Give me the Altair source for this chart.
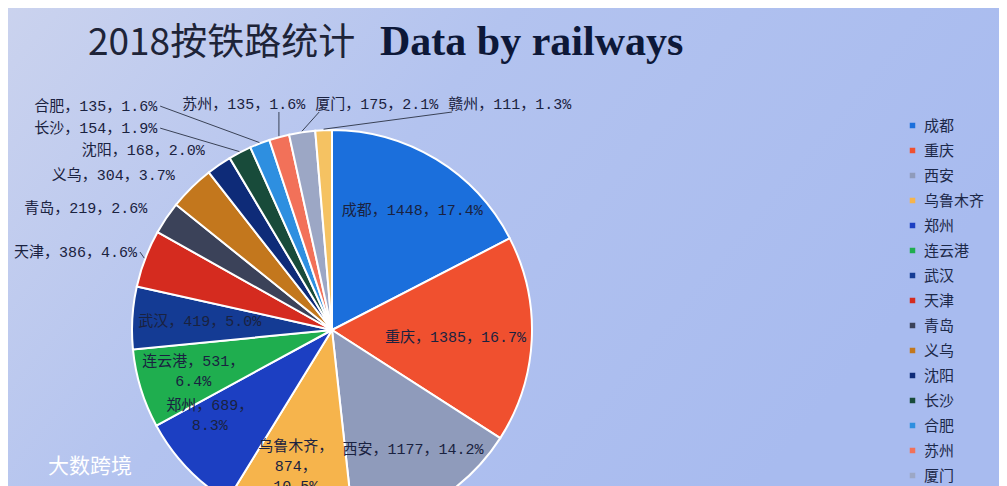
import math
import altair as alt
import pandas as pd

# ---------------- data ----------------
cities = ["成都", "重庆", "西安", "乌鲁木齐", "郑州", "连云港", "武汉", "天津",
          "青岛", "义乌", "沈阳", "长沙", "合肥", "苏州", "厦门", "赣州"]
values = [1448, 1385, 1177, 874, 689, 531, 419, 386,
          219, 304, 168, 154, 135, 135, 175, 111]
colors = ["#1b6fdc", "#f0502f", "#8f9bbb", "#f6b44c", "#1c3fc2", "#1fae4f",
          "#143b94", "#d52b1f", "#3b4259", "#c3771d", "#0e2b78", "#184b3a",
          "#2e8fe0", "#f27159", "#9ca7c5", "#f5c262"]

title_cn = "2018按铁路统计"
title_en = "Data by railways"
watermark = "大数跨境"
wrap_lines = {"乌鲁木齐": 3, "郑州": 2, "连云港": 2}

# ---------------- layout ----------------
W, H = 991, 478
CX, CY, R = 324, 322, 200
FS = 15
LAB_R = 140
SX = 1.1
LINE_H = 20
OUT_SHARE = 0.048
EDGE = 6
TXT = "#1a2240"
LAB_FONT = "Liberation Mono, Noto Sans CJK SC"

total = sum(values)
pcts = [f"{v / total * 100:.1f}%" for v in values]


def make_label(n, v, p, lines):
    if lines == 3:
        return f"{n}，\n{v}，\n{p}"
    if lines == 2:
        return f"{n}，{v}，\n{p}"
    return f"{n}，{v}，{p}"


def text_w(s):
    return sum(FS if ord(c) > 0x2000 else FS * 0.6 for c in s)


nlines = [wrap_lines.get(n, 1) for n in cities]
labels = [make_label(n, v, p, k) for n, v, p, k in zip(cities, values, pcts, nlines)]

starts, ends, mids = [], [], []
cum = 0
for v in values:
    starts.append(cum / total * 2 * math.pi)
    mids.append((cum + v / 2) / total * 2 * math.pi)
    cum += v
    ends.append(cum / total * 2 * math.pi)

outside = [i for i, v in enumerate(values) if v / total < OUT_SHARE]
inside = [i for i in range(len(values)) if i not in outside]


# ---- inside labels: at mid angle, kept inside the circle, rotated within slice if colliding
def inside_box(ang, i):
    x, y = SX * LAB_R * math.sin(ang), -LAB_R * math.cos(ang)
    lines = labels[i].split("\n")
    w = max(text_w(s) for s in lines)
    h = len(lines) * LINE_H
    half = math.sqrt(max(R ** 2 - y ** 2, 0)) - 6
    x = min(max(x, -half + w / 2), half - w / 2)
    return x, y, w, h


def overlaps(a, b, pad=8):
    return abs(a[0] - b[0]) < (a[2] + b[2]) / 2 + pad and abs(a[1] - b[1]) < (a[3] + b[3]) / 2


placed, in_rows = [], []
for i in inside:
    ang = mids[i]
    box = inside_box(ang, i)
    while any(overlaps(box, b) for b in placed) and ang < ends[i] - math.radians(4):
        ang += math.radians(1)
        box = inside_box(ang, i)
    placed.append(box)
    x, y, w, h = box
    in_rows.append({"lab": labels[i], "x": CX + x, "y": CY + y - (nlines[i] - 1) * LINE_H / 2})

# ---- outside labels
left_grp = sorted([i for i in outside if mids[i] < math.radians(340)], key=lambda i: mids[i])
top_grp = sorted([i for i in outside if mids[i] >= math.radians(340)], key=lambda i: mids[i])

RL = R + 18
y_top = -(R + 26)
top_rows, left_rows, lead_rows = [], [], []
prev_right = None
for i in top_grp:
    w = text_w(labels[i])
    ax = RL * math.sin(mids[i])
    lx = ax - 0.75 * w if prev_right is None else max(prev_right + 10, ax - w / 2)
    prev_right = lx + w
    top_rows.append({"lab": labels[i], "x": CX + lx, "y": CY + y_top})
    ex, ey = (R + 1) * math.sin(mids[i]), -(R + 1) * math.cos(mids[i])
    atx = min(max(ex, lx + 4), lx + w - 4)
    lead_rows.append({"x1": CX + atx, "y1": CY + y_top + 8, "x2": CX + ex, "y2": CY + ey})
top_left = min(r["x"] for r in top_rows) - CX if top_rows else 0

prev_y = 1e9
for i in left_grp:
    w = text_w(labels[i])
    ax, ay = RL * math.sin(mids[i]), -RL * math.cos(mids[i])
    y = min(ay, prev_y - 22)
    xr = ax - 4
    moved = abs(y - ay) > 3
    if top_rows and (moved or y < y_top + 14):
        xr = min(xr, top_left - 25)
    xr = max(xr, w + EDGE - CX)
    prev_y = y
    left_rows.append({"lab": labels[i], "x": CX + xr, "y": CY + y})
    if moved or abs(xr - (ax - 4)) > 3:
        ex, ey = (R + 1) * math.sin(mids[i]), -(R + 1) * math.cos(mids[i])
        lead_rows.append({"x1": CX + xr + 3, "y1": CY + y, "x2": CX + ex, "y2": CY + ey})

df = pd.DataFrame({"city": cities, "value": values, "idx": list(range(len(cities)))})

backdrop = alt.Chart(pd.DataFrame({"k": [0]})).mark_rect(
    color=alt.LinearGradient(
        gradient="linear",
        stops=[alt.GradientStop(color="#cbd3ee", offset=0),
               alt.GradientStop(color="#b3c3ef", offset=0.45),
               alt.GradientStop(color="#a8bbef", offset=1)],
        x1=0, x2=1, y1=0, y2=0.4,
    )
).encode(x=alt.value(-8), x2=alt.value(W), y=alt.value(-8), y2=alt.value(H))

pie = alt.Chart(df).mark_arc(outerRadius=R, stroke="white", strokeWidth=2).encode(
    theta=alt.Theta("value:Q", stack=True),
    order=alt.Order("idx:Q"),
    x=alt.value(CX), y=alt.value(CY),
    color=alt.Color(
        "city:N",
        sort=cities,
        scale=alt.Scale(domain=cities, range=colors),
        legend=alt.Legend(
            orient="none", legendX=897, legendY=110, title=None,
            symbolType="square", symbolSize=30, symbolStrokeWidth=0,
            labelFontSize=15, labelFont="Noto Sans CJK SC", labelColor="#1c2848",
            rowPadding=9, labelOffset=4, labelLimit=200,
        ),
    ),
)

inside_text = alt.Chart(pd.DataFrame(in_rows)).mark_text(
    align="center", baseline="middle", fontSize=FS, font=LAB_FONT, color=TXT,
    lineBreak="\n", lineHeight=LINE_H,
).encode(x=alt.X("x:Q", scale=None), y=alt.Y("y:Q", scale=None), text="lab:N")

left_text = alt.Chart(pd.DataFrame(left_rows)).mark_text(
    align="right", baseline="middle", fontSize=FS, font=LAB_FONT, color=TXT
).encode(x=alt.X("x:Q", scale=None), y=alt.Y("y:Q", scale=None), text="lab:N")

top_text = alt.Chart(pd.DataFrame(top_rows)).mark_text(
    align="left", baseline="middle", fontSize=FS, font=LAB_FONT, color=TXT
).encode(x=alt.X("x:Q", scale=None), y=alt.Y("y:Q", scale=None), text="lab:N")

leaders = alt.Chart(pd.DataFrame(lead_rows)).mark_rule(color="#3a4256", strokeWidth=1).encode(
    x=alt.X("x1:Q", scale=None), y=alt.Y("y1:Q", scale=None), x2="x2:Q", y2="y2:Q"
)

t_cn = alt.Chart(pd.DataFrame({"t": [title_cn]})).mark_text(
    align="left", baseline="alphabetic", fontSize=37, font="Noto Sans CJK SC", color="#1e2438"
).encode(x=alt.value(80), y=alt.value(47), text="t:N")

t_en = alt.Chart(pd.DataFrame({"t": [title_en]})).mark_text(
    align="left", baseline="alphabetic", fontSize=42, font="Liberation Serif",
    fontWeight="bold", color="#0d1838"
).encode(x=alt.value(372), y=alt.value(47), text="t:N")

wm = alt.Chart(pd.DataFrame({"t": [watermark]})).mark_text(
    align="left", baseline="middle", fontSize=21, font="Noto Sans CJK SC", color="white"
).encode(x=alt.value(40), y=alt.value(459), text="t:N")

chart = alt.layer(backdrop, pie, inside_text, leaders, left_text, top_text, t_cn, t_en, wm).properties(
    width=W, height=H, padding=0, autosize="none", background="#b5c5ef"
).configure_view(stroke=None)

chart.save("out.html", embed_options={"renderer": "svg", "actions": False})
